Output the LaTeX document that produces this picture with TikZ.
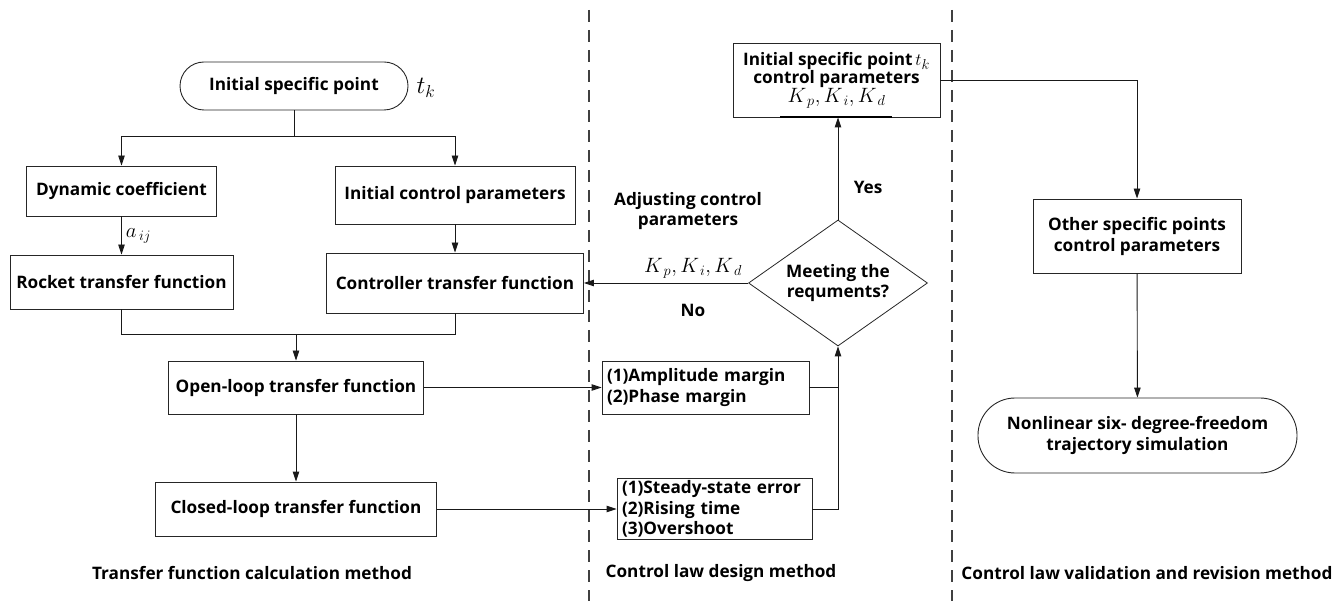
\documentclass[tikz,border=0pt]{standalone}
\usepackage{fontspec}
\setmainfont{Open Sans}
\usetikzlibrary{arrows.meta,shapes.geometric}

\tikzset{
  every node/.style={font=\fontsize{17.2}{20}\selectfont\bfseries, text=black},
  box/.style={draw=black!85, line width=0.9pt, inner sep=0pt, align=center},
  term/.style={box, rounded corners=24pt},
  listbox/.style={draw=black!85, line width=0.9pt, inner xsep=5pt, inner ysep=0pt, align=left},
  flow/.style={-{Triangle[length=10pt,width=6.5pt]}, line width=0.9pt, black!90},
  link/.style={line width=0.9pt, black!90},
  divider/.style={line width=1.1pt, dash pattern=on 12pt off 8pt, black!75},
  sym/.style={font=\fontsize{22}{24}\selectfont, inner sep=1pt},
  caption/.style={font=\fontsize{17.2}{20}\selectfont\bfseries},
}

\begin{document}
\begin{tikzpicture}[x=1pt, y=-1pt]
\useasboundingbox (0,0) rectangle (1339,601);

% column dividers
\draw[divider] (589,10) -- (589,601);
\draw[divider] (952,10) -- (952,601);

% ---- transfer function calculation ----
\node[term, minimum width=228pt, minimum height=48pt] (start) at (294,86) {Initial specific point};
\node[sym, font=\fontsize{26}{28}\selectfont] (tk) at (426,88) {$t_{k}$};
\coordinate (split) at (294,136);
\node[box, minimum width=190pt, minimum height=50pt] (dyn) at (121.5,191) {Dynamic coefficient};
\node[box, minimum width=240pt, minimum height=58pt] (icp) at (455,195) {Initial control parameters};
\node[box, minimum width=223pt, minimum height=54pt] (rocket) at (121.5,282) {Rocket transfer function};
\node[box, minimum width=257pt, minimum height=60pt] (ctrl) at (455,283) {Controller transfer function};
\coordinate (join) at (296,334);
\node[box, minimum width=255pt, minimum height=53pt] (open) at (296,387.5) {Open-loop transfer function};
\node[box, minimum width=281pt, minimum height=54pt] (closed) at (296,509) {Closed-loop transfer function};

\draw[link] (start.south) -- (split);
\draw[flow] (split) -| (dyn.north);
\draw[flow] (split) -| (icp.north);
\draw[flow] (dyn) -- node[sym, right, xshift=3pt, font=\fontsize{22}{22}\selectfont] (aij) {$a_{\,ij}$} (rocket);
\draw[flow] (icp) -- (ctrl);
\draw[link] (rocket.south) |- (ctrl.south |- join) -- (ctrl.south);
\draw[flow] (join) -- (open.north);
\draw[flow] (open) -- (closed);

% ---- control law design ----
\node[box, minimum width=207pt, minimum height=74pt, font=\fontsize{17.2}{18.5}\selectfont\bfseries] (ispc) at (836.5,80)
  {Initial specific point\,{\fontsize{19}{19}\selectfont$t_{k}$}\\control parameters\\[0pt]{\fontsize{22}{20}\selectfont$K_{\,p},K_{\,i},K_{\,d}$}};
\draw[line width=1.6pt] (780,117) -- (892,117);
\node[diamond, draw=black!85, line width=0.8pt, aspect=1.42, minimum width=179pt, minimum height=126pt,
      inner sep=0pt, align=center, font=\fontsize{17.2}{19.5}\selectfont\bfseries] (dec) at (838,283)
  {Meeting the\\requments?};
\draw[flow] (dec.north) -- node[right, xshift=12pt, pos=0.31] (yes) {Yes} (dec.north |- ispc.south);
\draw[flow] (dec.west) -- (ctrl.east);
\node[sym] (kadj) at (693,268) {$K_{\,p},K_{\,i},K_{\,d}$};
\node (no) at (693,310) {No};
\node[align=center] (adj) at (688,211) {Adjusting control\\parameters};

\node[listbox, text width=197pt, minimum height=53pt, font=\fontsize{17.2}{21}\selectfont\bfseries] (amp) at (705.5,387.5)
  {(1)Amplitude margin\\(2)Phase margin};
\node[listbox, text width=185pt, minimum height=61pt, font=\fontsize{17.2}{20.5}\selectfont\bfseries] (steady) at (714.5,509)
  {(1)Steady-state error\\(2)Rising time\\(3)Overshoot};
\draw[flow] (open.east) -- (amp.west);
\draw[flow] (closed.east) -- (steady.west);
\draw[flow] (steady.east) -| (dec.south);
\draw[link] (amp.east) -- (amp.east -| dec.south);

% ---- control law validation ----
\node[box, minimum width=208pt, minimum height=74pt, font=\fontsize{17.2}{21}\selectfont\bfseries] (other) at (1137,236)
  {Other specific points\\control parameters};
\node[term, rounded corners=37pt, minimum width=319pt, minimum height=75pt, font=\fontsize{17.2}{21}\selectfont\bfseries] (sim) at (1137.5,435.5)
  {Nonlinear six- degree-freedom\\trajectory simulation};
\draw[flow] (ispc.east) -| (other.north);
\draw[flow] (other) -- (sim);

% ---- column captions ----
\node[caption] (cap1) at (252,573) {Transfer function calculation method};
\node[caption] (cap2) at (721,573) {Control law design method};
\node[caption] (cap3) at (1147,573) {Control law validation and revision method};
\end{tikzpicture}
\end{document}
